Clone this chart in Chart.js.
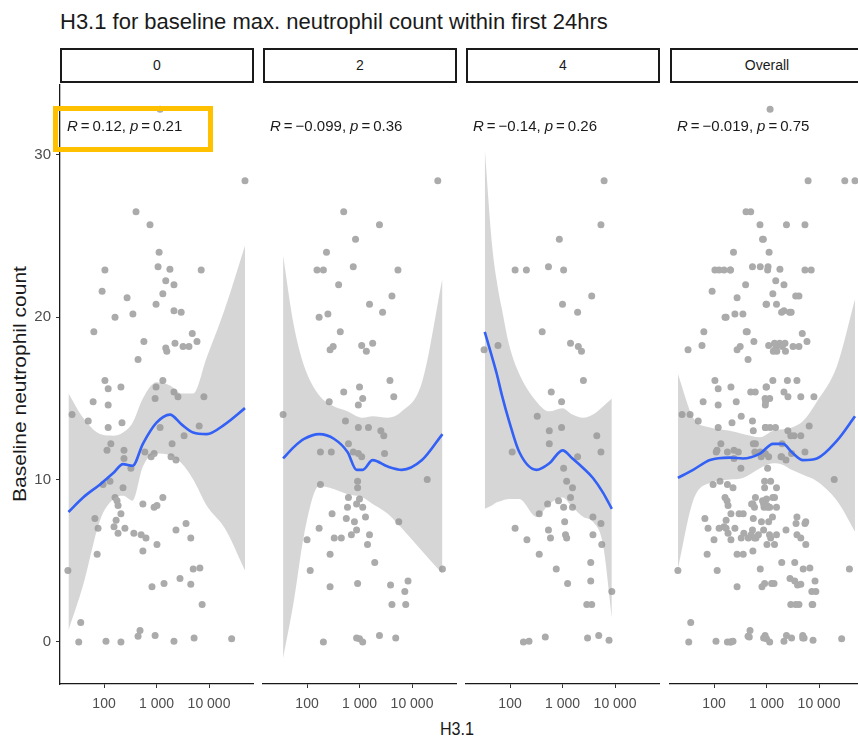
<!DOCTYPE html>
<html>
<head>
<meta charset="utf-8">
<script src="https://cdn.jsdelivr.net/npm/chart.js@4.4.1/dist/chart.umd.min.js"></script>
<style>
html, body { margin: 0; padding: 0; background: #fff; }
body { width: 858px; height: 739px; overflow: hidden; position: relative; font-family: "Liberation Sans", Arial, sans-serif; color: #1a1a1a; }
canvas { position: absolute; left: 0; top: 0; }
.titulo { position: absolute; left: 60px; top: 11px; font-size: 22px; line-height: 22px; white-space: nowrap; }
.tira { position: absolute; top: 48px; height: 35px; width: 194px; border: 2px solid #1a1a1a; box-sizing: border-box; font-size: 14px; text-align: center; line-height: 31px; background: #fff; }
.ytitulo { position: absolute; left: 19px; top: 384px; font-size: 21px; line-height: 21px; white-space: nowrap; transform: translate(-50%, -50%) rotate(-90deg) scaleY(0.88); }
.xtitulo { position: absolute; left: 457px; top: 719px; font-size: 19px; line-height: 19px; transform: translateX(-50%) scaleX(0.85); }
.marco { position: absolute; left: 53px; top: 106px; width: 160px; height: 46px; border: 5px solid #FFC000; box-sizing: border-box; z-index: 5; }
</style>
</head>
<body>
<div class="titulo">H3.1 for baseline max. neutrophil count within first 24hrs</div>
<div class="ytitulo">Baseline neutrophil count</div>
<div class="xtitulo">H3.1</div>
<div class="marco"></div>

<script>
// etiquetas de cada faceta
const paneles = ['0', '2', '4', 'Overall'];
const etiquetasCor = [['0.12', '0.21'], ['\u22120.099', '0.36'], ['\u22120.14', '0.26'], ['\u22120.019', '0.75']];

const xTicks = [100, 1000, 10000];
const xTickLabels = ['100', '1 000', '10 000'];
const yTicks = [0, 10, 20, 30];

// puntos: H3.1 (x) y neutrófilos (y)
const h31_t0 = [48500, 407, 751, 1120, 104, 1070, 1800, 7100, 92, 1500, 2150, 1320, 275, 980, 2150, 2950, 162, 355, 64, 4800,
  575, 5900, 2250, 3200, 4150, 1500, 1570, 445, 104, 120, 210, 1320, 980, 2150, 2560, 940, 8000, 62, 120, 24.6,
  50, 120, 220, 135, 114, 240, 240, 325, 1170, 3350, 6500, 1980, 600, 790, 900, 1890, 2350, 96, 130, 230,
  162, 177, 185, 550, 900, 1020, 1320, 210, 67, 170, 155, 77, 250, 185, 370, 510, 630, 2350, 3650, 4500,
  1020, 74, 550, 20.5, 5000, 6700, 2800, 1390, 820, 4500, 7400, 36, 33, 109, 210, 445, 485, 940, 2150, 5200,
  27000, 1170];
const neut_t0 = [28.4, 26.5, 25.7, 24.0, 22.9, 23.1, 22.95, 22.9, 21.6, 22.25, 22.0, 21.45, 21.2, 20.8, 20.4, 20.3, 20.0, 20.2, 19.1, 19.0,
  18.5, 18.5, 18.4, 18.2, 18.2, 18.1, 17.9, 17.4, 16.1, 15.6, 15.7, 16.1, 15.7, 15.4, 15.1, 15.0, 15.1, 14.8, 14.6, 14.0,
  13.6, 13.2, 13.5, 12.2, 11.8, 11.8, 11.3, 10.7, 13.2, 12.7, 13.3, 12.2, 11.7, 11.4, 11.6, 11.4, 11.2, 9.7, 9.9, 9.5,
  8.9, 8.7, 8.4, 8.5, 8.3, 8.4, 8.9, 7.9, 7.6, 7.5, 7.1, 7.0, 7.0, 6.7, 6.7, 6.6, 6.4, 6.9, 7.3, 6.4,
  6.0, 5.4, 5.6, 4.4, 4.5, 4.55, 3.9, 3.6, 3.4, 3.55, 2.3, 1.2, 0, 0.05, 0, 0.35, 0.7, 0.4, 0.05, 0.25,
  0.2, 32.8];

const h31_t2 = [31000, 500, 2400, 840, 235, 155, 205, 760, 5400, 400, 4150, 1550, 2750, 170, 250, 430, 275, 315, 1100, 1350,
  1780, 3800, 500, 1000, 1150, 950, 4500, 265, 35, 540, 950, 1480, 2550, 2900, 615, 760, 950, 1100, 180, 290,
  3000, 19500, 180, 920, 920, 615, 1000, 880, 590, 1150, 300, 560, 1300, 800, 170, 5600, 880, 700, 1550, 330,
  450, 100, 1420, 275, 1950, 115, 38000, 275, 920, 3900, 8400, 7300, 4150, 7600, 205, 880, 1000, 1150, 2400, 4900];
const neut_t2 = [28.4, 26.5, 25.7, 24.8, 24.0, 22.9, 22.9, 23.1, 22.9, 22.0, 21.3, 20.8, 20.3, 20.0, 20.2, 19.1, 18.0, 18.2, 18.25, 17.9,
  18.4, 16.1, 15.4, 15.7, 15.0, 14.6, 15.1, 14.8, 14.0, 13.6, 13.2, 13.2, 13.0, 12.7, 12.2, 11.7, 11.6, 11.4, 11.7, 11.7,
  11.6, 10.0, 9.7, 9.9, 9.5, 8.9, 8.8, 8.5, 8.3, 8.3, 7.9, 7.6, 7.7, 7.4, 7.0, 7.4, 6.9, 6.6, 6.6, 6.4,
  6.4, 6.3, 6.0, 5.4, 4.9, 4.4, 4.5, 3.4, 3.6, 3.5, 3.75, 3.1, 2.3, 2.3, 0, 0.25, 0.2, 0, 0.4, 0.25];

const h31_t4 = [6200, 5400, 870, 125, 205, 540, 1050, 3600, 1000, 1940, 410, 1420, 2000, 2300, 59, 32, 2500, 610, 960, 330,
  560, 960, 4500, 560, 110, 5400, 1940, 1050, 1200, 1550, 1420, 840, 1050, 1550, 520, 360, 3800, 1100, 5400, 125,
  540, 590, 1140, 1200, 3800, 210, 5600, 360, 3450, 760, 1250, 3450, 8700, 2900, 3600, 180, 230, 470, 3000, 4900, 7700];
const neut_t4 = [28.4, 25.7, 24.8, 22.9, 22.9, 23.1, 22.9, 21.3, 20.8, 20.3, 19.1, 18.4, 18.2, 17.9, 18.25, 18.0, 16.1, 15.4, 14.8, 13.9,
  13.0, 13.2, 12.7, 12.2, 11.7, 11.7, 11.4, 10.7, 9.9, 9.5, 8.9, 8.7, 8.3, 8.3, 8.5, 7.9, 7.7, 7.4, 7.3, 7.0,
  6.9, 6.4, 6.6, 6.4, 6.6, 6.3, 6.0, 5.4, 4.9, 4.5, 3.6, 3.75, 3.1, 2.3, 2.3, 0, 0.05, 0.3, 0.25, 0.4, 0.1];

// curva loess y banda de confianza
const suaveX_t0 = [21, 40, 84, 150, 230, 350, 550, 1000, 1800, 3000, 5000, 9000, 20000, 48500];
const ajuste_t0 = [8.0, 8.9, 9.7, 10.4, 10.95, 10.85, 12.2, 13.5, 14.0, 13.4, 12.9, 12.8, 13.4, 14.4];
const bajo_t0 = [0.7, 3.5, 7.5, 8.8, 9.0, 8.7, 10.8, 11.6, 11.5, 11.0, 10.0, 8.4, 7.0, 4.4];
const alto_t0 = [15.3, 13.8, 12.8, 12.7, 12.9, 13.5, 15.0, 16.0, 15.8, 15.3, 15.3, 17.5, 20.5, 24.4];

const suaveX_t2 = [35, 56, 88, 170, 330, 590, 880, 1150, 1780, 3450, 6400, 15500, 38000];
const ajuste_t2 = [11.3, 12.0, 12.5, 12.8, 12.5, 11.7, 10.6, 10.6, 11.2, 10.8, 10.6, 11.2, 12.8];
const bajo_t2 = [-1.0, 2.5, 6.6, 9.6, 9.4, 9.1, 9.0, 8.9, 8.5, 7.9, 7.0, 5.6, 4.2];
const alto_t2 = [23.8, 19.5, 17.0, 15.2, 14.5, 14.2, 13.9, 13.8, 13.9, 13.8, 14.2, 16.0, 22.4];

const suaveX_t4 = [33, 45, 56, 70, 96, 150, 320, 560, 1000, 1550, 2500, 3800, 5900, 8700];
const ajuste_t4 = [19.1, 17.6, 16.5, 15.2, 13.6, 11.7, 10.6, 11.0, 11.8, 11.3, 10.7, 10.1, 9.2, 8.2];
const bajo_t4 = [8.2, 8.4, 8.6, 8.7, 8.8, 8.8, 7.7, 8.5, 8.9, 8.3, 7.7, 7.4, 6.0, 1.5];
const alto_t4 = [30.4, 24.6, 22.2, 20.5, 18.3, 16.5, 14.8, 14.2, 14.4, 14.0, 13.8, 14.0, 14.5, 15.0];

const suaveX_all = [20.5, 40, 84, 200, 355, 750, 1330, 2070, 3000, 4960, 9100, 22000, 48500];
const ajuste_all = [10.1, 10.6, 11.2, 11.35, 11.3, 11.6, 12.2, 12.2, 11.7, 11.2, 11.3, 12.4, 13.9];
const bajo_all = [4.5, 8.7, 9.8, 10.0, 10.1, 10.7, 11.0, 10.9, 10.6, 10.3, 9.9, 8.7, 6.8];
const alto_all = [16.5, 13.8, 13.2, 13.0, 12.8, 12.6, 13.0, 13.1, 13.2, 13.6, 14.8, 17.0, 21.1];

// el panel Overall junta todos los puntos
const h31_all = h31_t0.concat(h31_t2, h31_t4);
const neut_all = neut_t0.concat(neut_t2, neut_t4);

const datosPaneles = [
  { x: h31_t0, y: neut_t0, sx: suaveX_t0, fit: ajuste_t0, lo: bajo_t0, hi: alto_t0 },
  { x: h31_t2, y: neut_t2, sx: suaveX_t2, fit: ajuste_t2, lo: bajo_t2, hi: alto_t2 },
  { x: h31_t4, y: neut_t4, sx: suaveX_t4, fit: ajuste_t4, lo: bajo_t4, hi: alto_t4 },
  { x: h31_all, y: neut_all, sx: suaveX_all, fit: ajuste_all, lo: bajo_all, hi: alto_all }
];

const izquierdas = [60, 263, 466, 670];
const ANCHO = 193, ARRIBA = 85, ABAJO = 684, LIENZO_W = 900, LIENZO_H = 739;
const FUENTE = '"Liberation Sans", Arial, sans-serif';

const pares = (xs, ys) => xs.map((v, i) => ({ x: v, y: ys[i] }));

// texto R / p con R y p en cursiva
const textoCor = {
  id: 'textoCor',
  afterDraw(chart, args, opts) {
    const ctx = chart.ctx;
    const x0 = chart.chartArea.left + 7;
    const y0 = chart.scales.y.getPixelForValue(31.7);
    const partes = [
      { t: 'R', i: true }, { t: '=', g: 3 }, { t: opts.r + ',', g: 3 },
      { t: 'p', i: true, g: 4 }, { t: '=', g: 3 }, { t: opts.p, g: 3 }
    ];
    ctx.save();
    ctx.fillStyle = '#1a1a1a';
    ctx.textBaseline = 'middle';
    let x = x0;
    partes.forEach(pt => {
      x += pt.g || 0;
      ctx.font = (pt.i ? 'italic ' : '') + '15px ' + FUENTE;
      ctx.fillText(pt.t, x, y0);
      x += ctx.measureText(pt.t).width;
    });
    ctx.restore();
  }
};

function crearPanel(idx) {
  const d = datosPaneles[idx];
  const L = izquierdas[idx];
  const canvas = document.createElement('canvas');
  canvas.width = LIENZO_W;
  canvas.height = LIENZO_H;
  document.body.appendChild(canvas);

  const tira = document.createElement('div');
  tira.className = 'tira';
  tira.style.left = L + 'px';
  tira.textContent = paneles[idx];
  document.body.appendChild(tira);

  const conEjeY = idx === 0;

  new Chart(canvas.getContext('2d'), {
    type: 'line',
    data: {
      datasets: [
        {
          data: pares(d.x, d.y), showLine: false, pointRadius: 3.5, pointHoverRadius: 3.5,
          pointBackgroundColor: '#ababab', pointBorderWidth: 0, order: 3
        },
        {
          data: pares(d.sx, d.lo), borderWidth: 0, pointRadius: 0, fill: false,
          cubicInterpolationMode: 'monotone', order: 2
        },
        {
          data: pares(d.sx, d.hi), borderWidth: 0, pointRadius: 0, fill: '-1',
          backgroundColor: 'rgba(153,153,153,0.4)', cubicInterpolationMode: 'monotone', order: 2
        },
        {
          data: pares(d.sx, d.fit), borderColor: '#3360f5', borderWidth: 2.6, pointRadius: 0,
          fill: false, cubicInterpolationMode: 'monotone', order: 0
        }
      ]
    },
    options: {
      responsive: false,
      animation: false,
      events: [],
      layout: {
        padding: { left: conEjeY ? L - 40 : L, right: LIENZO_W - (L + ANCHO), top: ARRIBA, bottom: 0 }
      },
      plugins: {
        legend: { display: false },
        tooltip: { enabled: false },
        textoCor: { r: etiquetasCor[idx][0], p: etiquetasCor[idx][1] }
      },
      scales: {
        x: {
          type: 'logarithmic',
          min: 14.5,
          max: 68900,
          afterFit: s => { s.height = LIENZO_H - ABAJO; },
          afterBuildTicks: s => { s.ticks = xTicks.map(v => ({ value: v })); },
          ticks: {
            autoSkip: false, maxRotation: 0, padding: 8,
            color: '#4d4d4d', font: { family: FUENTE, size: 14 },
            callback: (v) => xTickLabels[xTicks.indexOf(v)]
          },
          grid: { display: true, drawOnChartArea: false, tickLength: 4, color: '#333' },
          border: { display: true, color: '#1a1a1a', width: 1.3 }
        },
        y: {
          type: 'linear',
          display: conEjeY,
          min: -2.59,
          max: 34.3,
          afterFit: s => { if (conEjeY) s.width = 40; else s.width = 0; },
          afterBuildTicks: s => { s.ticks = yTicks.map(v => ({ value: v })); },
          ticks: { padding: 5, color: '#4d4d4d', font: { family: FUENTE, size: 15 } },
          grid: { display: true, drawOnChartArea: false, tickLength: 4, color: '#333' },
          border: { display: true, color: '#1a1a1a', width: 1.3 }
        }
      }
    },
    plugins: [textoCor]
  });
}

for (let i = 0; i < paneles.length; i++) crearPanel(i);
</script>
</body>
</html>
